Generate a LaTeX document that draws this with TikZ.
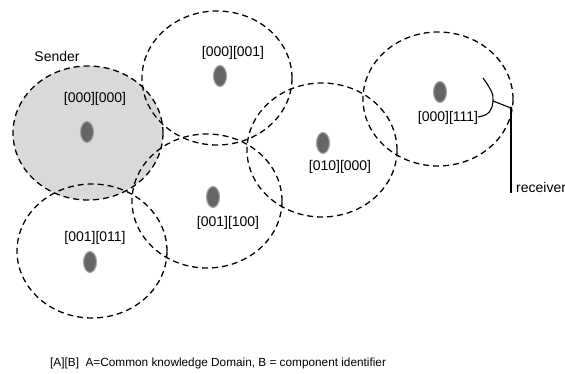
\documentclass[tikz,border=0pt]{standalone}
\usepackage{fontspec}
\setmainfont{Liberation Sans}
\definecolor{zoneGray}{HTML}{D9D9D9}
\definecolor{hostGray}{HTML}{666666}
\definecolor{rimGray}{HTML}{A6A6A6}
\usetikzlibrary{shapes.geometric, positioning}

\begin{document}
\begin{tikzpicture}[x=1pt, y=-1pt,
   zone/.style={ellipse, draw, line width=1.3pt, dash pattern=on 6pt off 4pt,
      minimum width=150pt, minimum height=134pt, inner sep=0pt},
   host/.style={ellipse, fill=hostGray, draw=rimGray, line width=1.1pt,
      minimum width=13pt, minimum height=21pt, inner sep=0pt},
   tag/.style={font=\fontsize{14}{16}\selectfont, inner sep=1pt}]
   \useasboundingbox (0,0) rectangle (565,374);
   % Sender area (filled first)
   \fill[zoneGray] (88,133) ellipse (75pt and 67pt);
   % Domains
   \node[zone] (zS)   at (88,133)  {};
   \node[zone] (z001) at (217,78)  {};
   \node[zone] (z010) at (322,150) {};
   \node[zone] (z100) at (207,201) {};
   \node[zone] (z011) at (92,251)  {};
   \node[zone] (z111) at (438,99)  {};
   % Components
   \node[host] (hS)   at (87,132)  {};
   \node[host] (h001) at (220,76)  {};
   \node[host] (h010) at (323,143) {};
   \node[host] (h100) at (213,197) {};
   \node[host] (h011) at (90,262)  {};
   \node[host] (h111) at (440,92)  {};
   % Identifiers
   \node[tag] (tS)   at (95,99)   {[000][000]};
   \node[tag] (t001) at (233,53)  {[000][001]};
   \node[tag] (t010) at (340,167) {[010][000]};
   \node[tag] (t100) at (228,223) {[001][100]};
   \node[tag] (t011) at (95,238)  {[001][011]};
   \node[tag] (t111) at (448,118) {[000][111]};
   \node[tag] (sender) at (57,56) {Sender};
   % Receiver
   \coordinate (tip) at (511,108);
   \fill (tip) circle (1.6pt);
   \node[tag, anchor=west] (recv) at (515,187) {receiver};
   \draw[line width=1.3pt] (tip) -- (tip |- recv.south);
   \draw[line width=1.1pt] (483,78) .. controls (490,88) and (494,94) .. (493,101)
      .. controls (492,110) and (490,115) .. (478,117);
   \draw[line width=1.1pt] (493,101) -- (tip);
   % Legend
   \node[tag, anchor=west, font=\fontsize{11.8}{13}\selectfont] (legend) at (49,363)
      {[A][B]\ \ A=Common knowledge Domain, B = component identifier};
\end{tikzpicture}
\end{document}
